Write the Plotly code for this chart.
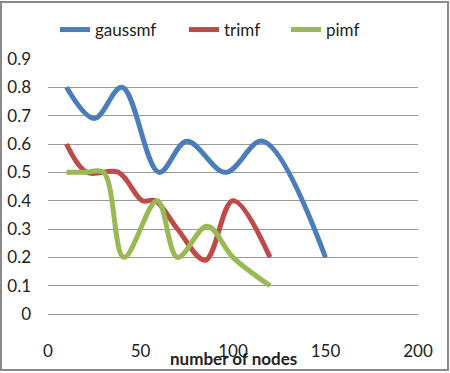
import plotly.graph_objects as go

# Data
gauss_x = [10, 25, 40, 60, 75, 96, 116, 150]
gauss_y = [0.8, 0.69, 0.8, 0.5, 0.61, 0.5, 0.61, 0.2]

tri_x = [10, 21, 38, 51, 58, 70, 85, 100, 120]
tri_y = [0.6, 0.5, 0.5, 0.4, 0.4, 0.3, 0.19, 0.4, 0.2]

pi_x = [10, 20, 30, 41, 59, 70, 86, 100, 120]
pi_y = [0.5, 0.5, 0.5, 0.2, 0.4, 0.2, 0.31, 0.2, 0.1]

x_ticks = [0, 50, 100, 150, 200]
y_ticks = [0, 0.1, 0.2, 0.3, 0.4, 0.5, 0.6, 0.7, 0.8, 0.9]

FONT = "Lato"
L, R, T, B = 48, 32, 59, 59
W, H = 450, 373
pw, ph = W - L - R, H - T - B

fig = go.Figure()
series = [
    ("gaussmf", gauss_x, gauss_y, "#4A7EBB", "legend", 55),
    ("trimf", tri_x, tri_y, "#BE4B48", "legend2", 184),
    ("pimf", pi_x, pi_y, "#98B954", "legend3", 286),
]
legends = {}
for name, xs, ys, col, lg, px in series:
    fig.add_trace(go.Scatter(x=xs, y=ys, name=name, mode="lines", legend=lg,
                             line=dict(color=col, width=5, shape="spline", smoothing=1.0)))
    legends[lg] = dict(orientation="h", x=(px - L) / pw, xanchor="left",
                       y=(H - B - 30) / ph, yanchor="middle",
                       font=dict(size=17, family=FONT, color="#222"),
                       itemwidth=30, bgcolor="rgba(0,0,0,0)")

fig.update_layout(
    width=W, height=H,
    margin=dict(l=L, r=R, t=T, b=B, autoexpand=False),
    paper_bgcolor="white", plot_bgcolor="white",
    font=dict(family=FONT, size=17, color="#222"),
    showlegend=True,
    xaxis=dict(range=[0, 200], tickvals=x_ticks, showgrid=False, zeroline=False,
               showline=True, linecolor="#9a9a9a", linewidth=1,
               ticks="", ticklabelstandoff=22, automargin=False,
               tickfont=dict(size=17, family=FONT, color="#222")),
    yaxis=dict(range=[0, 0.9], tickvals=y_ticks, ticktext=[str(v) for v in y_ticks],
               showgrid=True, gridcolor="#9a9a9a", gridwidth=1, zeroline=False,
               showline=False, ticks="", ticklabelstandoff=16, automargin=False,
               tickfont=dict(size=17, family=FONT, color="#222")),
    annotations=[dict(text="<b>number of nodes</b>", xref="paper", yref="paper",
                      x=0.5, y=-(358 - (H - B)) / ph, xanchor="center", yanchor="middle",
                      showarrow=False, font=dict(size=17, family=FONT, color="#222"))],
    shapes=[dict(type="rect", xref="paper", yref="paper",
                 x0=(1 - L) / pw, x1=(448 - L) / pw,
                 y0=(H - B - 370) / ph, y1=(H - B - 2) / ph,
                 line=dict(color="#8a8a8a", width=2), layer="below")],
    **legends,
)

fig.write_html("out.html", config={"displayModeBar": False},
               post_script="document.body.style.margin='0px';")
